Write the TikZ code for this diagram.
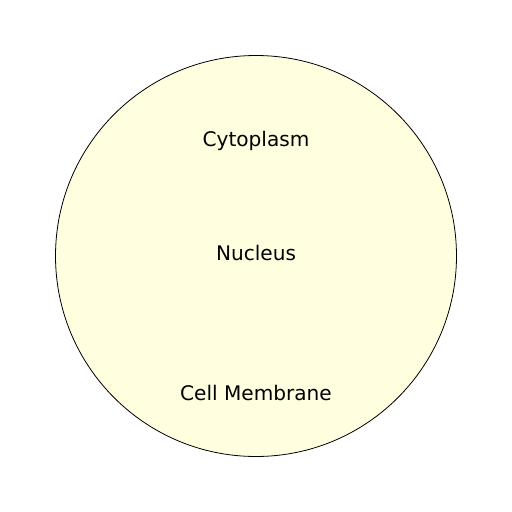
\documentclass[tikz,border=0pt]{standalone}
\usepackage{fontspec}
\setmainfont{DejaVu Sans}
\definecolor{cellfill}{HTML}{FFFFE0}
\begin{document}
\begin{tikzpicture}[x=1pt,y=-1pt,
  lbl/.style={anchor=base,inner sep=0pt,font=\fontsize{20.1}{24}\selectfont}]
\useasboundingbox (0,0) rectangle (512,512);
\fill[white] (0,0) rectangle (512,512);
\node[circle,draw=black,line width=0.8pt,fill=cellfill,minimum size=401pt,inner sep=0pt] (cell) at (256,256) {};
\node[lbl] (cyto) at (256,146.5) {Cytoplasm};
\node[lbl] (nuc) at (256,260.8) {Nucleus};
\node[lbl] (mem) at (256,400.8) {Cell Membrane};
\end{tikzpicture}
\end{document}
